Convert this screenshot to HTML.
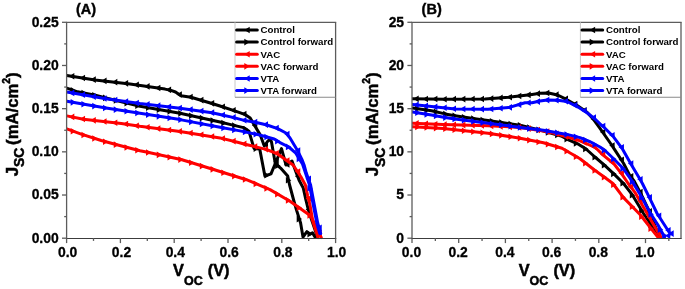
<!DOCTYPE html><html><head><meta charset="utf-8"><style>
html,body{margin:0;padding:0;background:#fff;}
svg{display:block;will-change:transform;}
text{font-family:"Liberation Sans", sans-serif;font-weight:bold;fill:#000;}
.tk{font-size:13.9px;stroke:#000;stroke-width:0.3px;}
.lg{font-size:9.7px;}
.pl{font-size:14.5px;stroke:#000;stroke-width:0.4px;}
.ti{font-size:16.3px;stroke:#000;stroke-width:0.5px;}
.tiy{font-size:16.7px;stroke:#000;stroke-width:0.5px;}
.sub{font-size:12.5px;}
.sub2{font-size:13.9px;}
.sup{font-size:10.4px;}
</style></head><body>
<svg width="685" height="289" viewBox="0 0 685 289">
<rect width="685" height="289" fill="#fff"/>
<defs><clipPath id="ca"><rect x="66.6" y="22.3" width="269" height="216.9"/></clipPath>
<clipPath id="cb"><rect x="412" y="22.3" width="269" height="216.9"/></clipPath></defs>
<g clip-path="url(#ca)">
<path d="M66.8,75.5 L95,79.9 L130,83.9 L165,89.1 L171,90.4 L175.5,92 L181,95.8 L191,97.2 L212,103.5 L220,106 L234,110.6 L244.7,114.3 L250.2,118 L254,124.5 L260.1,134.6 L264.3,146 L267.5,141.5 L270,139 L271.5,142 L275.3,163.5 L281.5,148.6 L286,165 L292,161.1 L295.5,170.8 L299,180 L303.3,188.1 L305.9,200 L308.5,210.3 L311,218 L317.3,236.5" fill="none" stroke="#000" stroke-width="3.0" stroke-linejoin="round" stroke-linecap="round"/>
<path d="M68.9,76.25L74.3,72.95L74.3,79.55Z" fill="#000"/>
<path d="M79.66,77.93L85.06,74.63L85.06,81.23Z" fill="#000"/>
<path d="M90.42,79.61L95.82,76.31L95.82,82.91Z" fill="#000"/>
<path d="M101.18,80.91L106.58,77.61L106.58,84.21Z" fill="#000"/>
<path d="M111.94,82.14L117.34,78.84L117.34,85.44Z" fill="#000"/>
<path d="M122.7,83.37L128.1,80.07L128.1,86.67Z" fill="#000"/>
<path d="M133.46,84.82L138.86,81.52L138.86,88.12Z" fill="#000"/>
<path d="M144.22,86.41L149.62,83.11L149.62,89.71Z" fill="#000"/>
<path d="M154.98,88.01L160.38,84.71L160.38,91.31Z" fill="#000"/>
<path d="M165.74,89.85L171.14,86.55L171.14,93.15Z" fill="#000"/>
<path d="M176.5,94.56L181.9,91.26L181.9,97.86Z" fill="#000"/>
<path d="M187.26,97.05L192.66,93.75L192.66,100.35Z" fill="#000"/>
<path d="M198.02,100.12L203.42,96.82L203.42,103.42Z" fill="#000"/>
<path d="M208.78,103.34L214.18,100.04L214.18,106.64Z" fill="#000"/>
<path d="M219.54,106.74L224.94,103.44L224.94,110.04Z" fill="#000"/>
<path d="M230.3,110.27L235.7,106.97L235.7,113.57Z" fill="#000"/>
<path d="M241.06,113.97L246.46,110.67L246.46,117.27Z" fill="#000"/>
<path d="M251.82,125.36L257.22,122.06L257.22,128.66Z" fill="#000"/>
<path d="M262.58,144.62L267.98,141.32L267.98,147.92Z" fill="#000"/>
<path d="M273.34,161.72L278.74,158.42L278.74,165.02Z" fill="#000"/>
<path d="M284.1,164.48L289.5,161.18L289.5,167.78Z" fill="#000"/>
<path d="M294.86,176.21L300.26,172.91L300.26,179.51Z" fill="#000"/>
<path d="M305.62,209.59L311.02,206.29L311.02,212.89Z" fill="#000"/>
<path d="M66.8,88.2 L77.6,91.8 L95.3,95.3 L107,98.2 L140,106.3 L180,113.2 L220,122 L231.8,124.9 L243.5,127.6 L249,131.3 L254,148.4 L259.7,148.9 L264.9,176 L271,173.8 L275.3,163.5 L280.6,168.1 L287.7,176 L289.6,185 L293.6,200 L296.3,209.4 L300.6,223 L303,237 L306.9,231.7 L310.1,234.1 L312.5,232.9 L315,237" fill="none" stroke="#000" stroke-width="3.0" stroke-linejoin="round" stroke-linecap="round"/>
<path d="M76.1,90.4L70.7,87.1L70.7,93.7Z" fill="#000"/>
<path d="M86.86,93.1L81.46,89.8L81.46,96.4Z" fill="#000"/>
<path d="M97.62,95.22L92.22,91.92L92.22,98.52Z" fill="#000"/>
<path d="M108.38,97.87L102.98,94.57L102.98,101.17Z" fill="#000"/>
<path d="M119.14,100.52L113.74,97.22L113.74,103.82Z" fill="#000"/>
<path d="M129.9,103.16L124.5,99.86L124.5,106.46Z" fill="#000"/>
<path d="M140.66,105.8L135.26,102.5L135.26,109.1Z" fill="#000"/>
<path d="M151.42,107.8L146.02,104.5L146.02,111.1Z" fill="#000"/>
<path d="M162.18,109.66L156.78,106.36L156.78,112.96Z" fill="#000"/>
<path d="M172.94,111.52L167.54,108.22L167.54,114.82Z" fill="#000"/>
<path d="M183.7,113.42L178.3,110.12L178.3,116.72Z" fill="#000"/>
<path d="M194.46,115.79L189.06,112.49L189.06,119.09Z" fill="#000"/>
<path d="M205.22,118.15L199.82,114.85L199.82,121.45Z" fill="#000"/>
<path d="M215.98,120.52L210.58,117.22L210.58,123.82Z" fill="#000"/>
<path d="M226.74,122.99L221.34,119.69L221.34,126.29Z" fill="#000"/>
<path d="M237.5,125.59L232.1,122.29L232.1,128.89Z" fill="#000"/>
<path d="M248.26,128.99L242.86,125.69L242.86,132.29Z" fill="#000"/>
<path d="M259.02,148.6L253.62,145.3L253.62,151.9Z" fill="#000"/>
<path d="M269.78,175.21L264.38,171.91L264.38,178.51Z" fill="#000"/>
<path d="M280.54,165.7L275.14,162.4L275.14,169Z" fill="#000"/>
<path d="M291.3,180.26L285.9,176.96L285.9,183.56Z" fill="#000"/>
<path d="M302.06,219.08L296.66,215.78L296.66,222.38Z" fill="#000"/>
<path d="M312.82,234.09L307.42,230.79L307.42,237.39Z" fill="#000"/>
<path d="M66.8,115.9 L83.5,119.3 L121.3,123.4 L140,126.3 L180,131.5 L220,137.9 L237.6,142.3 L245,144.2 L256,146.9 L266.9,149.6 L277.8,154 L285.3,159.5 L293.1,165 L297.5,171.5 L301,177 L305.4,185 L307.7,196 L310,205 L312.5,219.4 L321.3,237.7" fill="none" stroke="#ff0000" stroke-width="3.0" stroke-linejoin="round" stroke-linecap="round"/>
<path d="M68.9,116.88L74.3,113.58L74.3,120.18Z" fill="#ff0000"/>
<path d="M79.66,119.07L85.06,115.77L85.06,122.37Z" fill="#ff0000"/>
<path d="M90.42,120.34L95.82,117.04L95.82,123.64Z" fill="#ff0000"/>
<path d="M101.18,121.51L106.58,118.21L106.58,124.81Z" fill="#ff0000"/>
<path d="M111.94,122.68L117.34,119.38L117.34,125.98Z" fill="#ff0000"/>
<path d="M122.7,124.04L128.1,120.74L128.1,127.34Z" fill="#ff0000"/>
<path d="M133.46,125.7L138.86,122.4L138.86,129Z" fill="#ff0000"/>
<path d="M144.22,127.2L149.62,123.9L149.62,130.5Z" fill="#ff0000"/>
<path d="M154.98,128.6L160.38,125.3L160.38,131.9Z" fill="#ff0000"/>
<path d="M165.74,130L171.14,126.7L171.14,133.3Z" fill="#ff0000"/>
<path d="M176.5,131.4L181.9,128.1L181.9,134.7Z" fill="#ff0000"/>
<path d="M187.26,133.09L192.66,129.79L192.66,136.39Z" fill="#ff0000"/>
<path d="M198.02,134.82L203.42,131.52L203.42,138.12Z" fill="#ff0000"/>
<path d="M208.78,136.54L214.18,133.24L214.18,139.84Z" fill="#ff0000"/>
<path d="M219.54,138.46L224.94,135.16L224.94,141.76Z" fill="#ff0000"/>
<path d="M230.3,141.15L235.7,137.85L235.7,144.45Z" fill="#ff0000"/>
<path d="M241.06,143.88L246.46,140.58L246.46,147.18Z" fill="#ff0000"/>
<path d="M251.82,146.54L257.22,143.24L257.22,149.84Z" fill="#ff0000"/>
<path d="M262.58,149.2L267.98,145.9L267.98,152.5Z" fill="#ff0000"/>
<path d="M273.34,153.29L278.74,149.99L278.74,156.59Z" fill="#ff0000"/>
<path d="M284.1,160.56L289.5,157.26L289.5,163.86Z" fill="#ff0000"/>
<path d="M294.86,171.59L300.26,168.29L300.26,174.89Z" fill="#ff0000"/>
<path d="M305.62,198.43L311.02,195.13L311.02,201.73Z" fill="#ff0000"/>
<path d="M316.38,233.08L321.78,229.78L321.78,236.38Z" fill="#ff0000"/>
<path d="M66.8,128.8 L81.2,134.1 L101.2,140.5 L118.8,145.3 L140,150.8 L150,152.8 L182,159.8 L216,170.2 L246.4,179.7 L270,189.6 L290,201.2 L311.2,216.2 L318.1,237.7" fill="none" stroke="#ff0000" stroke-width="3.0" stroke-linejoin="round" stroke-linecap="round"/>
<path d="M76.1,131.23L70.7,127.93L70.7,134.53Z" fill="#ff0000"/>
<path d="M86.86,135.05L81.46,131.75L81.46,138.35Z" fill="#ff0000"/>
<path d="M97.62,138.49L92.22,135.19L92.22,141.79Z" fill="#ff0000"/>
<path d="M108.38,141.72L102.98,138.42L102.98,145.02Z" fill="#ff0000"/>
<path d="M119.14,144.66L113.74,141.36L113.74,147.96Z" fill="#ff0000"/>
<path d="M129.9,147.48L124.5,144.18L124.5,150.78Z" fill="#ff0000"/>
<path d="M140.66,150.27L135.26,146.97L135.26,153.57Z" fill="#ff0000"/>
<path d="M151.42,152.54L146.02,149.24L146.02,155.84Z" fill="#ff0000"/>
<path d="M162.18,154.87L156.78,151.57L156.78,158.17Z" fill="#ff0000"/>
<path d="M172.94,157.23L167.54,153.93L167.54,160.53Z" fill="#ff0000"/>
<path d="M183.7,159.58L178.3,156.28L178.3,162.88Z" fill="#ff0000"/>
<path d="M194.46,162.79L189.06,159.49L189.06,166.09Z" fill="#ff0000"/>
<path d="M205.22,166.08L199.82,162.78L199.82,169.38Z" fill="#ff0000"/>
<path d="M215.98,169.37L210.58,166.07L210.58,172.67Z" fill="#ff0000"/>
<path d="M226.74,172.71L221.34,169.41L221.34,176.01Z" fill="#ff0000"/>
<path d="M237.5,176.07L232.1,172.77L232.1,179.38Z" fill="#ff0000"/>
<path d="M248.26,179.44L242.86,176.14L242.86,182.74Z" fill="#ff0000"/>
<path d="M259.02,183.86L253.62,180.56L253.62,187.16Z" fill="#ff0000"/>
<path d="M269.78,188.38L264.38,185.08L264.38,191.68Z" fill="#ff0000"/>
<path d="M280.54,194.15L275.14,190.85L275.14,197.45Z" fill="#ff0000"/>
<path d="M291.3,200.39L285.9,197.09L285.9,203.69Z" fill="#ff0000"/>
<path d="M302.06,207.82L296.66,204.52L296.66,211.12Z" fill="#ff0000"/>
<path d="M312.82,215.44L307.42,212.14L307.42,218.74Z" fill="#ff0000"/>
<path d="M66.8,92.1 L106,98.8 L140,103.6 L180,108.2 L212,112.7 L220,114.5 L234,117.6 L245,120.6 L255.3,122.2 L267,125 L277.7,128.6 L286,133 L290,138 L297.5,150.5 L301.9,159.3 L304.1,165 L306.3,173.1 L310.6,185 L313.4,200 L317.7,223 L320.7,233.5" fill="none" stroke="#0000ff" stroke-width="3.0" stroke-linejoin="round" stroke-linecap="round"/>
<path d="M68.9,92.92L74.3,89.62L74.3,96.22Z" fill="#0000ff"/>
<path d="M79.66,94.76L85.06,91.46L85.06,98.06Z" fill="#0000ff"/>
<path d="M90.42,96.6L95.82,93.3L95.82,99.9Z" fill="#0000ff"/>
<path d="M101.18,98.44L106.58,95.14L106.58,101.74Z" fill="#0000ff"/>
<path d="M111.94,100.02L117.34,96.72L117.34,103.32Z" fill="#0000ff"/>
<path d="M122.7,101.54L128.1,98.24L128.1,104.84Z" fill="#0000ff"/>
<path d="M133.46,103.06L138.86,99.76L138.86,106.36Z" fill="#0000ff"/>
<path d="M144.22,104.4L149.62,101.1L149.62,107.7Z" fill="#0000ff"/>
<path d="M154.98,105.63L160.38,102.33L160.38,108.93Z" fill="#0000ff"/>
<path d="M165.74,106.87L171.14,103.57L171.14,110.17Z" fill="#0000ff"/>
<path d="M176.5,108.11L181.9,104.81L181.9,111.41Z" fill="#0000ff"/>
<path d="M187.26,109.6L192.66,106.3L192.66,112.9Z" fill="#0000ff"/>
<path d="M198.02,111.11L203.42,107.81L203.42,114.41Z" fill="#0000ff"/>
<path d="M208.78,112.63L214.18,109.33L214.18,115.93Z" fill="#0000ff"/>
<path d="M219.54,115L224.94,111.7L224.94,118.3Z" fill="#0000ff"/>
<path d="M230.3,117.38L235.7,114.08L235.7,120.68Z" fill="#0000ff"/>
<path d="M241.06,120.26L246.46,116.96L246.46,123.56Z" fill="#0000ff"/>
<path d="M251.82,122.08L257.22,118.78L257.22,125.38Z" fill="#0000ff"/>
<path d="M262.58,124.59L267.98,121.29L267.98,127.89Z" fill="#0000ff"/>
<path d="M273.34,128.04L278.74,124.74L278.74,131.34Z" fill="#0000ff"/>
<path d="M284.1,134L289.5,130.7L289.5,137.3Z" fill="#0000ff"/>
<path d="M294.86,150.62L300.26,147.32L300.26,153.92Z" fill="#0000ff"/>
<path d="M305.62,178.69L311.02,175.39L311.02,181.99Z" fill="#0000ff"/>
<path d="M316.38,227.83L321.78,224.53L321.78,231.13Z" fill="#0000ff"/>
<path d="M66.8,101.2 L106,108 L140,113.3 L180,119.6 L220,127.2 L240,130.9 L257.6,134.5 L274.2,139 L280,142.6 L288.8,147 L295.8,153.1 L300.1,160.1 L302.5,164 L305.5,173.1 L309.5,185 L312.3,200 L316.8,223 L319.8,233.5" fill="none" stroke="#0000ff" stroke-width="3.0" stroke-linejoin="round" stroke-linecap="round"/>
<path d="M76.1,102.34L70.7,99.04L70.7,105.64Z" fill="#0000ff"/>
<path d="M86.86,104.21L81.46,100.91L81.46,107.51Z" fill="#0000ff"/>
<path d="M97.62,106.08L92.22,102.78L92.22,109.38Z" fill="#0000ff"/>
<path d="M108.38,107.94L102.98,104.64L102.98,111.24Z" fill="#0000ff"/>
<path d="M119.14,109.63L113.74,106.33L113.74,112.93Z" fill="#0000ff"/>
<path d="M129.9,111.3L124.5,108L124.5,114.6Z" fill="#0000ff"/>
<path d="M140.66,112.98L135.26,109.68L135.26,116.28Z" fill="#0000ff"/>
<path d="M151.42,114.67L146.02,111.37L146.02,117.97Z" fill="#0000ff"/>
<path d="M162.18,116.37L156.78,113.07L156.78,119.67Z" fill="#0000ff"/>
<path d="M172.94,118.06L167.54,114.76L167.54,121.36Z" fill="#0000ff"/>
<path d="M183.7,119.79L178.3,116.49L178.3,123.09Z" fill="#0000ff"/>
<path d="M194.46,121.83L189.06,118.53L189.06,125.13Z" fill="#0000ff"/>
<path d="M205.22,123.88L199.82,120.58L199.82,127.18Z" fill="#0000ff"/>
<path d="M215.98,125.92L210.58,122.62L210.58,129.22Z" fill="#0000ff"/>
<path d="M226.74,127.95L221.34,124.65L221.34,131.25Z" fill="#0000ff"/>
<path d="M237.5,129.94L232.1,126.64L232.1,133.24Z" fill="#0000ff"/>
<path d="M248.26,132.04L242.86,128.74L242.86,135.34Z" fill="#0000ff"/>
<path d="M259.02,134.24L253.62,130.94L253.62,137.54Z" fill="#0000ff"/>
<path d="M269.78,137.07L264.38,133.77L264.38,140.37Z" fill="#0000ff"/>
<path d="M280.54,141.26L275.14,137.96L275.14,144.56Z" fill="#0000ff"/>
<path d="M291.3,146.9L285.9,143.6L285.9,150.2Z" fill="#0000ff"/>
<path d="M302.06,158.9L296.66,155.6L296.66,162.2Z" fill="#0000ff"/>
<path d="M312.82,188.32L307.42,185.02L307.42,191.62Z" fill="#0000ff"/>
</g>
<line x1="66" y1="22.3" x2="336.2" y2="22.3" stroke="#5c5c5c" stroke-width="1.3"/>
<line x1="66.6" y1="22.3" x2="66.6" y2="238.7" stroke="#5c5c5c" stroke-width="1.3"/>
<line x1="335.6" y1="22.3" x2="335.6" y2="238.7" stroke="#5c5c5c" stroke-width="1.3"/>
<line x1="66" y1="238.5" x2="336.2" y2="238.5" stroke="#3c3c3c" stroke-width="1.05"/>
<line x1="66.6" y1="238.2" x2="66.6" y2="243.1" stroke="#5c5c5c" stroke-width="1.3"/>
<text x="67.7" y="256.8" text-anchor="middle" class="tk">0.0</text>
<line x1="120.4" y1="238.2" x2="120.4" y2="243.1" stroke="#5c5c5c" stroke-width="1.3"/>
<text x="121.5" y="256.8" text-anchor="middle" class="tk">0.2</text>
<line x1="174.2" y1="238.2" x2="174.2" y2="243.1" stroke="#5c5c5c" stroke-width="1.3"/>
<text x="175.3" y="256.8" text-anchor="middle" class="tk">0.4</text>
<line x1="228" y1="238.2" x2="228" y2="243.1" stroke="#5c5c5c" stroke-width="1.3"/>
<text x="229.1" y="256.8" text-anchor="middle" class="tk">0.6</text>
<line x1="281.8" y1="238.2" x2="281.8" y2="243.1" stroke="#5c5c5c" stroke-width="1.3"/>
<text x="282.9" y="256.8" text-anchor="middle" class="tk">0.8</text>
<line x1="335.6" y1="238.2" x2="335.6" y2="243.1" stroke="#5c5c5c" stroke-width="1.3"/>
<text x="336.7" y="256.8" text-anchor="middle" class="tk">1.0</text>
<line x1="93.5" y1="238.2" x2="93.5" y2="240.9" stroke="#5c5c5c" stroke-width="1.3"/>
<line x1="147.3" y1="238.2" x2="147.3" y2="240.9" stroke="#5c5c5c" stroke-width="1.3"/>
<line x1="201.1" y1="238.2" x2="201.1" y2="240.9" stroke="#5c5c5c" stroke-width="1.3"/>
<line x1="254.9" y1="238.2" x2="254.9" y2="240.9" stroke="#5c5c5c" stroke-width="1.3"/>
<line x1="308.7" y1="238.2" x2="308.7" y2="240.9" stroke="#5c5c5c" stroke-width="1.3"/>
<line x1="62" y1="238.2" x2="66.6" y2="238.2" stroke="#5c5c5c" stroke-width="1.3"/>
<text x="58.7" y="242.5" text-anchor="end" class="tk">0.00</text>
<line x1="62" y1="195.02" x2="66.6" y2="195.02" stroke="#5c5c5c" stroke-width="1.3"/>
<text x="58.7" y="199.32" text-anchor="end" class="tk">0.05</text>
<line x1="62" y1="151.84" x2="66.6" y2="151.84" stroke="#5c5c5c" stroke-width="1.3"/>
<text x="58.7" y="156.14" text-anchor="end" class="tk">0.10</text>
<line x1="62" y1="108.66" x2="66.6" y2="108.66" stroke="#5c5c5c" stroke-width="1.3"/>
<text x="58.7" y="112.96" text-anchor="end" class="tk">0.15</text>
<line x1="62" y1="65.48" x2="66.6" y2="65.48" stroke="#5c5c5c" stroke-width="1.3"/>
<text x="58.7" y="69.78" text-anchor="end" class="tk">0.20</text>
<line x1="62" y1="22.3" x2="66.6" y2="22.3" stroke="#5c5c5c" stroke-width="1.3"/>
<text x="58.7" y="26.6" text-anchor="end" class="tk">0.25</text>
<line x1="64.2" y1="216.61" x2="66.6" y2="216.61" stroke="#5c5c5c" stroke-width="1.3"/>
<line x1="64.2" y1="173.43" x2="66.6" y2="173.43" stroke="#5c5c5c" stroke-width="1.3"/>
<line x1="64.2" y1="130.25" x2="66.6" y2="130.25" stroke="#5c5c5c" stroke-width="1.3"/>
<line x1="64.2" y1="87.07" x2="66.6" y2="87.07" stroke="#5c5c5c" stroke-width="1.3"/>
<line x1="64.2" y1="43.89" x2="66.6" y2="43.89" stroke="#5c5c5c" stroke-width="1.3"/>
<line x1="235" y1="22.3" x2="235" y2="97.3" stroke="#c8c8c8" stroke-width="1"/>
<line x1="235" y1="97.3" x2="335.6" y2="97.3" stroke="#8a8a8a" stroke-width="1.1"/>
<line x1="236.6" y1="30" x2="257.3" y2="30" stroke="#000" stroke-width="3.0" stroke-linecap="round"/>
<path d="M244.3,30L249.7,26.7L249.7,33.3Z" fill="#000"/>
<text x="260.5" y="33.3" class="lg">Control</text>
<line x1="236.6" y1="42.12" x2="257.3" y2="42.12" stroke="#000" stroke-width="3.0" stroke-linecap="round"/>
<path d="M249.7,42.12L244.3,38.82L244.3,45.42Z" fill="#000"/>
<text x="260.5" y="45.42" class="lg">Control forward</text>
<line x1="236.6" y1="54.24" x2="257.3" y2="54.24" stroke="#ff0000" stroke-width="3.0" stroke-linecap="round"/>
<path d="M244.3,54.24L249.7,50.94L249.7,57.54Z" fill="#ff0000"/>
<text x="260.5" y="57.54" class="lg">VAC</text>
<line x1="236.6" y1="66.36" x2="257.3" y2="66.36" stroke="#ff0000" stroke-width="3.0" stroke-linecap="round"/>
<path d="M249.7,66.36L244.3,63.06L244.3,69.66Z" fill="#ff0000"/>
<text x="260.5" y="69.66" class="lg">VAC forward</text>
<line x1="236.6" y1="78.48" x2="257.3" y2="78.48" stroke="#0000ff" stroke-width="3.0" stroke-linecap="round"/>
<path d="M244.3,78.48L249.7,75.18L249.7,81.78Z" fill="#0000ff"/>
<text x="260.5" y="81.78" class="lg">VTA</text>
<line x1="236.6" y1="90.6" x2="257.3" y2="90.6" stroke="#0000ff" stroke-width="3.0" stroke-linecap="round"/>
<path d="M249.7,90.6L244.3,87.3L244.3,93.9Z" fill="#0000ff"/>
<text x="260.5" y="93.9" class="lg">VTA forward</text>
<g clip-path="url(#cb)">
<path d="M412.6,98.8 L445,99.2 L485,99 L508.5,97.3 L532,94.4 L540,93.3 L548.5,93 L557.6,95 L567,99.7 L577.6,105.8 L587,112.3 L592.9,118.6 L600,128.3 L610.6,143.5 L615.3,150.6 L623.5,163.2 L629.4,174.8 L634.1,181 L641,194 L650,213 L659,236" fill="none" stroke="#000" stroke-width="3.0" stroke-linejoin="round" stroke-linecap="round"/>
<path d="M413.3,98.84L418.7,95.54L418.7,102.14Z" fill="#000"/>
<path d="M422.63,98.96L428.03,95.66L428.03,102.26Z" fill="#000"/>
<path d="M431.96,99.07L437.36,95.77L437.36,102.37Z" fill="#000"/>
<path d="M441.29,99.19L446.69,95.89L446.69,102.49Z" fill="#000"/>
<path d="M450.62,99.16L456.02,95.86L456.02,102.46Z" fill="#000"/>
<path d="M459.95,99.11L465.35,95.81L465.35,102.41Z" fill="#000"/>
<path d="M469.28,99.07L474.68,95.77L474.68,102.37Z" fill="#000"/>
<path d="M478.61,99.02L484.01,95.72L484.01,102.32Z" fill="#000"/>
<path d="M487.94,98.59L493.34,95.29L493.34,101.89Z" fill="#000"/>
<path d="M497.27,97.92L502.67,94.62L502.67,101.22Z" fill="#000"/>
<path d="M506.6,97.2L512,93.9L512,100.5Z" fill="#000"/>
<path d="M515.93,96.05L521.33,92.75L521.33,99.35Z" fill="#000"/>
<path d="M525.26,94.9L530.66,91.6L530.66,98.2Z" fill="#000"/>
<path d="M534.59,93.67L539.99,90.37L539.99,96.97Z" fill="#000"/>
<path d="M543.92,93.07L549.32,89.77L549.32,96.37Z" fill="#000"/>
<path d="M553.25,94.64L558.65,91.34L558.65,97.94Z" fill="#000"/>
<path d="M562.58,98.84L567.98,95.54L567.98,102.14Z" fill="#000"/>
<path d="M571.91,104.08L577.31,100.78L577.31,107.38Z" fill="#000"/>
<path d="M581.24,110.18L586.64,106.88L586.64,113.48Z" fill="#000"/>
<path d="M590.57,119.11L595.97,115.81L595.97,122.41Z" fill="#000"/>
<path d="M599.9,132.03L605.3,128.73L605.3,135.33Z" fill="#000"/>
<path d="M609.23,145.51L614.63,142.21L614.63,148.81Z" fill="#000"/>
<path d="M618.56,159.76L623.96,156.46L623.96,163.06Z" fill="#000"/>
<path d="M627.89,176.37L633.29,173.07L633.29,179.67Z" fill="#000"/>
<path d="M637.22,191.97L642.62,188.67L642.62,195.27Z" fill="#000"/>
<path d="M646.55,211.42L651.95,208.12L651.95,214.72Z" fill="#000"/>
<path d="M655.88,234.93L661.28,231.63L661.28,238.23Z" fill="#000"/>
<path d="M412.6,108.1 L431.5,110.7 L445,113.9 L455,115.7 L480,119.6 L488,120.6 L520,125.2 L543.5,131 L561.2,136 L568.5,139.8 L578.8,144.4 L586,149 L595.5,157.5 L604.7,165.3 L614.1,174.1 L623.5,183.5 L631.8,194.1 L643.5,213.5 L659,236" fill="none" stroke="#000" stroke-width="3.0" stroke-linejoin="round" stroke-linecap="round"/>
<path d="M420.6,108.83L415.2,105.53L415.2,112.13Z" fill="#000"/>
<path d="M429.93,110.11L424.53,106.81L424.53,113.41Z" fill="#000"/>
<path d="M439.26,111.9L433.86,108.6L433.86,115.2Z" fill="#000"/>
<path d="M448.59,114.06L443.19,110.76L443.19,117.36Z" fill="#000"/>
<path d="M457.92,115.73L452.52,112.43L452.52,119.03Z" fill="#000"/>
<path d="M467.25,117.19L461.85,113.89L461.85,120.49Z" fill="#000"/>
<path d="M476.58,118.65L471.18,115.35L471.18,121.95Z" fill="#000"/>
<path d="M485.91,120L480.51,116.7L480.51,123.3Z" fill="#000"/>
<path d="M495.24,121.25L489.84,117.95L489.84,124.55Z" fill="#000"/>
<path d="M504.57,122.59L499.17,119.29L499.17,125.89Z" fill="#000"/>
<path d="M513.9,123.94L508.5,120.64L508.5,127.23Z" fill="#000"/>
<path d="M523.23,125.33L517.83,122.03L517.83,128.63Z" fill="#000"/>
<path d="M532.56,127.63L527.16,124.33L527.16,130.93Z" fill="#000"/>
<path d="M541.89,129.94L536.49,126.64L536.49,133.24Z" fill="#000"/>
<path d="M551.22,132.42L545.82,129.12L545.82,135.72Z" fill="#000"/>
<path d="M560.55,135.05L555.15,131.75L555.15,138.35Z" fill="#000"/>
<path d="M569.88,139.11L564.48,135.81L564.48,142.41Z" fill="#000"/>
<path d="M579.21,143.38L573.81,140.08L573.81,146.68Z" fill="#000"/>
<path d="M588.54,148.9L583.14,145.6L583.14,152.2Z" fill="#000"/>
<path d="M597.87,157.2L592.47,153.9L592.47,160.5Z" fill="#000"/>
<path d="M607.2,165.13L601.8,161.83L601.8,168.43Z" fill="#000"/>
<path d="M616.53,173.85L611.13,170.55L611.13,177.15Z" fill="#000"/>
<path d="M625.86,183.16L620.46,179.86L620.46,186.46Z" fill="#000"/>
<path d="M635.19,195.24L629.79,191.94L629.79,198.54Z" fill="#000"/>
<path d="M644.52,210.71L639.12,207.41L639.12,214.01Z" fill="#000"/>
<path d="M653.85,224.6L648.45,221.3L648.45,227.9Z" fill="#000"/>
<path d="M412.6,123.2 L443.3,124.6 L488,125.7 L520,127.4 L545,131.2 L555.3,133.6 L578.8,140.3 L595.3,147.5 L603.5,155.3 L614.1,164 L622.4,174.8 L628.2,183.5 L635.3,192.9 L647.1,213.5 L660.8,237.1" fill="none" stroke="#ff0000" stroke-width="3.0" stroke-linejoin="round" stroke-linecap="round"/>
<path d="M413.3,123.36L418.7,120.06L418.7,126.66Z" fill="#ff0000"/>
<path d="M422.63,123.78L428.03,120.48L428.03,127.08Z" fill="#ff0000"/>
<path d="M431.96,124.21L437.36,120.91L437.36,127.51Z" fill="#ff0000"/>
<path d="M441.29,124.62L446.69,121.32L446.69,127.92Z" fill="#ff0000"/>
<path d="M450.62,124.85L456.02,121.55L456.02,128.15Z" fill="#ff0000"/>
<path d="M459.95,125.08L465.35,121.78L465.35,128.38Z" fill="#ff0000"/>
<path d="M469.28,125.31L474.68,122.01L474.68,128.61Z" fill="#ff0000"/>
<path d="M478.61,125.54L484.01,122.24L484.01,128.84Z" fill="#ff0000"/>
<path d="M487.94,125.84L493.34,122.54L493.34,129.14Z" fill="#ff0000"/>
<path d="M497.27,126.34L502.67,123.04L502.67,129.64Z" fill="#ff0000"/>
<path d="M506.6,126.83L512,123.53L512,130.13Z" fill="#ff0000"/>
<path d="M515.93,127.33L521.33,124.03L521.33,130.63Z" fill="#ff0000"/>
<path d="M525.26,128.61L530.66,125.31L530.66,131.91Z" fill="#ff0000"/>
<path d="M534.59,130.03L539.99,126.73L539.99,133.33Z" fill="#ff0000"/>
<path d="M543.92,131.58L549.32,128.28L549.32,134.88Z" fill="#ff0000"/>
<path d="M553.25,133.79L558.65,130.49L558.65,137.09Z" fill="#ff0000"/>
<path d="M562.58,136.45L567.98,133.15L567.98,139.75Z" fill="#ff0000"/>
<path d="M571.91,139.11L577.31,135.81L577.31,142.41Z" fill="#ff0000"/>
<path d="M581.24,142.54L586.64,139.24L586.64,145.84Z" fill="#ff0000"/>
<path d="M590.57,146.61L595.97,143.31L595.97,149.91Z" fill="#ff0000"/>
<path d="M599.9,154.44L605.3,151.14L605.3,157.74Z" fill="#ff0000"/>
<path d="M609.23,162.22L614.63,158.92L614.63,165.52Z" fill="#ff0000"/>
<path d="M618.56,173.32L623.96,170.02L623.96,176.62Z" fill="#ff0000"/>
<path d="M627.89,186.66L633.29,183.36L633.29,189.96Z" fill="#ff0000"/>
<path d="M637.22,200.97L642.62,197.67L642.62,204.27Z" fill="#ff0000"/>
<path d="M646.55,217.2L651.95,213.9L651.95,220.5Z" fill="#ff0000"/>
<path d="M655.88,233.28L661.28,229.98L661.28,236.58Z" fill="#ff0000"/>
<path d="M412.6,126.7 L443.3,128.5 L488,133.2 L520,138.2 L543.5,142.8 L562,148.3 L580,158.7 L594.1,169.8 L603.5,176.5 L612.9,183.5 L623.5,197.6 L640,214.5 L658.2,237.5" fill="none" stroke="#ff0000" stroke-width="3.0" stroke-linejoin="round" stroke-linecap="round"/>
<path d="M420.6,127.01L415.2,123.71L415.2,130.31Z" fill="#ff0000"/>
<path d="M429.93,127.56L424.53,124.26L424.53,130.86Z" fill="#ff0000"/>
<path d="M439.26,128.1L433.86,124.8L433.86,131.4Z" fill="#ff0000"/>
<path d="M448.59,128.77L443.19,125.47L443.19,132.07Z" fill="#ff0000"/>
<path d="M457.92,129.75L452.52,126.45L452.52,133.05Z" fill="#ff0000"/>
<path d="M467.25,130.73L461.85,127.43L461.85,134.03Z" fill="#ff0000"/>
<path d="M476.58,131.72L471.18,128.42L471.18,135.02Z" fill="#ff0000"/>
<path d="M485.91,132.7L480.51,129.4L480.51,136Z" fill="#ff0000"/>
<path d="M495.24,133.91L489.84,130.61L489.84,137.21Z" fill="#ff0000"/>
<path d="M504.57,135.37L499.17,132.07L499.17,138.67Z" fill="#ff0000"/>
<path d="M513.9,136.82L508.5,133.52L508.5,140.12Z" fill="#ff0000"/>
<path d="M523.23,138.3L517.83,135L517.83,141.6Z" fill="#ff0000"/>
<path d="M532.56,140.13L527.16,136.83L527.16,143.43Z" fill="#ff0000"/>
<path d="M541.89,141.96L536.49,138.66L536.49,145.26Z" fill="#ff0000"/>
<path d="M551.22,144.29L545.82,140.99L545.82,147.59Z" fill="#ff0000"/>
<path d="M560.55,147.07L555.15,143.77L555.15,150.37Z" fill="#ff0000"/>
<path d="M569.88,151.29L564.48,147.99L564.48,154.59Z" fill="#ff0000"/>
<path d="M579.21,156.68L573.81,153.38L573.81,159.98Z" fill="#ff0000"/>
<path d="M588.54,163.3L583.14,160L583.14,166.6Z" fill="#ff0000"/>
<path d="M597.87,170.56L592.47,167.26L592.47,173.86Z" fill="#ff0000"/>
<path d="M607.2,177.24L601.8,173.94L601.8,180.54Z" fill="#ff0000"/>
<path d="M616.53,184.74L611.13,181.44L611.13,188.04Z" fill="#ff0000"/>
<path d="M625.86,197.15L620.46,193.85L620.46,200.45Z" fill="#ff0000"/>
<path d="M635.19,206.81L629.79,203.51L629.79,210.11Z" fill="#ff0000"/>
<path d="M644.52,216.8L639.12,213.5L639.12,220.1Z" fill="#ff0000"/>
<path d="M653.85,228.59L648.45,225.29L648.45,231.89Z" fill="#ff0000"/>
<path d="M412.6,104.4 L431.5,106.6 L455,108.9 L488,109.2 L508.5,107.6 L525,102.8 L532,102.8 L540,101 L547.4,100 L557.6,100.3 L567,101.5 L577.6,106.8 L587,112.7 L595.3,119.2 L600,123.8 L603.5,126.8 L613.5,136.8 L622.6,149.2 L631.8,165.6 L638.8,177.3 L642.4,183.5 L649.4,197.6 L657.1,213.5 L670.3,234" fill="none" stroke="#0000ff" stroke-width="3.0" stroke-linejoin="round" stroke-linecap="round"/>
<path d="M413.3,104.8L418.7,101.5L418.7,108.1Z" fill="#0000ff"/>
<path d="M422.63,105.88L428.03,102.58L428.03,109.18Z" fill="#0000ff"/>
<path d="M431.96,106.91L437.36,103.61L437.36,110.21Z" fill="#0000ff"/>
<path d="M441.29,107.82L446.69,104.52L446.69,111.12Z" fill="#0000ff"/>
<path d="M450.62,108.74L456.02,105.44L456.02,112.04Z" fill="#0000ff"/>
<path d="M459.95,108.97L465.35,105.67L465.35,112.27Z" fill="#0000ff"/>
<path d="M469.28,109.05L474.68,105.75L474.68,112.35Z" fill="#0000ff"/>
<path d="M478.61,109.14L484.01,105.84L484.01,112.44Z" fill="#0000ff"/>
<path d="M487.94,108.99L493.34,105.69L493.34,112.29Z" fill="#0000ff"/>
<path d="M497.27,108.27L502.67,104.97L502.67,111.57Z" fill="#0000ff"/>
<path d="M506.6,107.37L512,104.07L512,110.67Z" fill="#0000ff"/>
<path d="M515.93,104.65L521.33,101.35L521.33,107.95Z" fill="#0000ff"/>
<path d="M525.26,102.8L530.66,99.5L530.66,106.1Z" fill="#0000ff"/>
<path d="M534.59,101.61L539.99,98.31L539.99,104.91Z" fill="#0000ff"/>
<path d="M543.92,100.11L549.32,96.81L549.32,103.41Z" fill="#0000ff"/>
<path d="M553.25,100.25L558.65,96.95L558.65,103.55Z" fill="#0000ff"/>
<path d="M562.58,101.28L567.98,97.98L567.98,104.58Z" fill="#0000ff"/>
<path d="M571.91,105.3L577.31,102L577.31,108.6Z" fill="#0000ff"/>
<path d="M581.24,110.78L586.64,107.48L586.64,114.08Z" fill="#0000ff"/>
<path d="M590.57,117.61L595.97,114.31L595.97,120.91Z" fill="#0000ff"/>
<path d="M599.9,126.03L605.3,122.73L605.3,129.33Z" fill="#0000ff"/>
<path d="M609.23,135.23L614.63,131.93L614.63,138.53Z" fill="#0000ff"/>
<path d="M618.56,147.37L623.96,144.07L623.96,150.67Z" fill="#0000ff"/>
<path d="M627.89,163.44L633.29,160.14L633.29,166.74Z" fill="#0000ff"/>
<path d="M637.22,179.23L642.62,175.93L642.62,182.53Z" fill="#0000ff"/>
<path d="M646.55,197.3L651.95,194L651.95,200.6Z" fill="#0000ff"/>
<path d="M655.88,215.8L661.28,212.5L661.28,219.1Z" fill="#0000ff"/>
<path d="M665.21,230.29L670.61,226.99L670.61,233.59Z" fill="#0000ff"/>
<path d="M412.6,111.9 L431.5,115.1 L445,117.5 L455,118.9 L488,123.2 L520,127.4 L543.5,130.3 L567,134.4 L580,137.6 L590.6,142 L600,147 L605,150.5 L612.9,158 L623.5,168.8 L631.8,180.6 L640,194.1 L650.6,213.5 L658,225 L664.5,237" fill="none" stroke="#0000ff" stroke-width="3.0" stroke-linejoin="round" stroke-linecap="round"/>
<path d="M420.6,112.8L415.2,109.5L415.2,116.1Z" fill="#0000ff"/>
<path d="M429.93,114.38L424.53,111.08L424.53,117.68Z" fill="#0000ff"/>
<path d="M439.26,116L433.86,112.7L433.86,119.3Z" fill="#0000ff"/>
<path d="M448.59,117.62L443.19,114.32L443.19,120.92Z" fill="#0000ff"/>
<path d="M457.92,118.93L452.52,115.63L452.52,122.23Z" fill="#0000ff"/>
<path d="M467.25,120.14L461.85,116.84L461.85,123.44Z" fill="#0000ff"/>
<path d="M476.58,121.36L471.18,118.06L471.18,124.66Z" fill="#0000ff"/>
<path d="M485.91,122.58L480.51,119.28L480.51,125.88Z" fill="#0000ff"/>
<path d="M495.24,123.8L489.84,120.5L489.84,127.1Z" fill="#0000ff"/>
<path d="M504.57,125.02L499.17,121.72L499.17,128.32Z" fill="#0000ff"/>
<path d="M513.9,126.25L508.5,122.95L508.5,129.55Z" fill="#0000ff"/>
<path d="M523.23,127.47L517.83,124.17L517.83,130.77Z" fill="#0000ff"/>
<path d="M532.56,128.62L527.16,125.32L527.16,131.92Z" fill="#0000ff"/>
<path d="M541.89,129.77L536.49,126.47L536.49,133.07Z" fill="#0000ff"/>
<path d="M551.22,131.18L545.82,127.88L545.82,134.48Z" fill="#0000ff"/>
<path d="M560.55,132.8L555.15,129.5L555.15,136.1Z" fill="#0000ff"/>
<path d="M569.88,134.44L564.48,131.14L564.48,137.74Z" fill="#0000ff"/>
<path d="M579.21,136.74L573.81,133.44L573.81,140.04Z" fill="#0000ff"/>
<path d="M588.54,140.02L583.14,136.72L583.14,143.32Z" fill="#0000ff"/>
<path d="M597.87,144.43L592.47,141.13L592.47,147.73Z" fill="#0000ff"/>
<path d="M607.2,150.15L601.8,146.85L601.8,153.45Z" fill="#0000ff"/>
<path d="M616.53,158.95L611.13,155.65L611.13,162.25Z" fill="#0000ff"/>
<path d="M625.86,168.45L620.46,165.15L620.46,171.75Z" fill="#0000ff"/>
<path d="M635.19,181.74L629.79,178.44L629.79,185.04Z" fill="#0000ff"/>
<path d="M644.52,197.43L639.12,194.13L639.12,200.73Z" fill="#0000ff"/>
<path d="M653.85,214.35L648.45,211.05L648.45,217.65Z" fill="#0000ff"/>
<path d="M663.18,229.58L657.78,226.28L657.78,232.88Z" fill="#0000ff"/>
<path d="M667.5,235.6L662.1,232.3L662.1,238.9Z" fill="#0000ff"/>
<path d="M664.9,235.8L670.3,232.5L670.3,239.1Z" fill="#0000ff"/>
<path d="M668.3,233.6L673.7,230.3L673.7,236.9Z" fill="#0000ff"/>
</g>
<line x1="411.4" y1="22.3" x2="681.6" y2="22.3" stroke="#5c5c5c" stroke-width="1.3"/>
<line x1="412" y1="22.3" x2="412" y2="238.7" stroke="#5c5c5c" stroke-width="1.3"/>
<line x1="681" y1="22.3" x2="681" y2="238.7" stroke="#5c5c5c" stroke-width="1.3"/>
<line x1="411.4" y1="238.5" x2="681.6" y2="238.5" stroke="#3c3c3c" stroke-width="1.05"/>
<line x1="412" y1="238.2" x2="412" y2="243.1" stroke="#5c5c5c" stroke-width="1.3"/>
<text x="411.5" y="256.8" text-anchor="middle" class="tk">0.0</text>
<line x1="458.7" y1="238.2" x2="458.7" y2="243.1" stroke="#5c5c5c" stroke-width="1.3"/>
<text x="458.2" y="256.8" text-anchor="middle" class="tk">0.2</text>
<line x1="505.4" y1="238.2" x2="505.4" y2="243.1" stroke="#5c5c5c" stroke-width="1.3"/>
<text x="504.9" y="256.8" text-anchor="middle" class="tk">0.4</text>
<line x1="552.1" y1="238.2" x2="552.1" y2="243.1" stroke="#5c5c5c" stroke-width="1.3"/>
<text x="551.6" y="256.8" text-anchor="middle" class="tk">0.6</text>
<line x1="598.8" y1="238.2" x2="598.8" y2="243.1" stroke="#5c5c5c" stroke-width="1.3"/>
<text x="598.3" y="256.8" text-anchor="middle" class="tk">0.8</text>
<line x1="645.5" y1="238.2" x2="645.5" y2="243.1" stroke="#5c5c5c" stroke-width="1.3"/>
<text x="645" y="256.8" text-anchor="middle" class="tk">1.0</text>
<line x1="435.35" y1="238.2" x2="435.35" y2="240.9" stroke="#5c5c5c" stroke-width="1.3"/>
<line x1="482.05" y1="238.2" x2="482.05" y2="240.9" stroke="#5c5c5c" stroke-width="1.3"/>
<line x1="528.75" y1="238.2" x2="528.75" y2="240.9" stroke="#5c5c5c" stroke-width="1.3"/>
<line x1="575.45" y1="238.2" x2="575.45" y2="240.9" stroke="#5c5c5c" stroke-width="1.3"/>
<line x1="622.15" y1="238.2" x2="622.15" y2="240.9" stroke="#5c5c5c" stroke-width="1.3"/>
<line x1="668.85" y1="238.2" x2="668.85" y2="240.9" stroke="#5c5c5c" stroke-width="1.3"/>
<line x1="407.4" y1="238.2" x2="412" y2="238.2" stroke="#5c5c5c" stroke-width="1.3"/>
<text x="404.1" y="242.5" text-anchor="end" class="tk">0</text>
<line x1="407.4" y1="195.02" x2="412" y2="195.02" stroke="#5c5c5c" stroke-width="1.3"/>
<text x="404.1" y="199.32" text-anchor="end" class="tk">5</text>
<line x1="407.4" y1="151.84" x2="412" y2="151.84" stroke="#5c5c5c" stroke-width="1.3"/>
<text x="404.1" y="156.14" text-anchor="end" class="tk">10</text>
<line x1="407.4" y1="108.66" x2="412" y2="108.66" stroke="#5c5c5c" stroke-width="1.3"/>
<text x="404.1" y="112.96" text-anchor="end" class="tk">15</text>
<line x1="407.4" y1="65.48" x2="412" y2="65.48" stroke="#5c5c5c" stroke-width="1.3"/>
<text x="404.1" y="69.78" text-anchor="end" class="tk">20</text>
<line x1="407.4" y1="22.3" x2="412" y2="22.3" stroke="#5c5c5c" stroke-width="1.3"/>
<text x="404.1" y="26.6" text-anchor="end" class="tk">25</text>
<line x1="409.6" y1="216.61" x2="412" y2="216.61" stroke="#5c5c5c" stroke-width="1.3"/>
<line x1="409.6" y1="173.43" x2="412" y2="173.43" stroke="#5c5c5c" stroke-width="1.3"/>
<line x1="409.6" y1="130.25" x2="412" y2="130.25" stroke="#5c5c5c" stroke-width="1.3"/>
<line x1="409.6" y1="87.07" x2="412" y2="87.07" stroke="#5c5c5c" stroke-width="1.3"/>
<line x1="409.6" y1="43.89" x2="412" y2="43.89" stroke="#5c5c5c" stroke-width="1.3"/>
<line x1="580.4" y1="22.3" x2="580.4" y2="97.3" stroke="#c8c8c8" stroke-width="1"/>
<line x1="580.4" y1="97.3" x2="681" y2="97.3" stroke="#8a8a8a" stroke-width="1.1"/>
<line x1="582" y1="30" x2="602.7" y2="30" stroke="#000" stroke-width="3.0" stroke-linecap="round"/>
<path d="M589.7,30L595.1,26.7L595.1,33.3Z" fill="#000"/>
<text x="605.9" y="33.3" class="lg">Control</text>
<line x1="582" y1="42.12" x2="602.7" y2="42.12" stroke="#000" stroke-width="3.0" stroke-linecap="round"/>
<path d="M595.1,42.12L589.7,38.82L589.7,45.42Z" fill="#000"/>
<text x="605.9" y="45.42" class="lg">Control forward</text>
<line x1="582" y1="54.24" x2="602.7" y2="54.24" stroke="#ff0000" stroke-width="3.0" stroke-linecap="round"/>
<path d="M589.7,54.24L595.1,50.94L595.1,57.54Z" fill="#ff0000"/>
<text x="605.9" y="57.54" class="lg">VAC</text>
<line x1="582" y1="66.36" x2="602.7" y2="66.36" stroke="#ff0000" stroke-width="3.0" stroke-linecap="round"/>
<path d="M595.1,66.36L589.7,63.06L589.7,69.66Z" fill="#ff0000"/>
<text x="605.9" y="69.66" class="lg">VAC forward</text>
<line x1="582" y1="78.48" x2="602.7" y2="78.48" stroke="#0000ff" stroke-width="3.0" stroke-linecap="round"/>
<path d="M589.7,78.48L595.1,75.18L595.1,81.78Z" fill="#0000ff"/>
<text x="605.9" y="81.78" class="lg">VTA</text>
<line x1="582" y1="90.6" x2="602.7" y2="90.6" stroke="#0000ff" stroke-width="3.0" stroke-linecap="round"/>
<path d="M595.1,90.6L589.7,87.3L589.7,93.9Z" fill="#0000ff"/>
<text x="605.9" y="93.9" class="lg">VTA forward</text>
<text x="76" y="13.9" class="pl">(A)</text>
<text x="173.1" y="275.9" class="ti">V<tspan class="sub" dy="8.8">OC</tspan><tspan dx="0.6" dy="-8.8"> (V)</tspan></text>
<text transform="translate(18,176.2) rotate(-90)" class="tiy">J<tspan class="sub2" dy="6.4">SC</tspan><tspan dx="-1.9" dy="-6.4"> (mA/cm</tspan><tspan class="sup" dy="-8.4">2</tspan><tspan dy="8.4">)</tspan></text>
<text x="421.6" y="13.9" class="pl">(B)</text>
<text x="518.7" y="275.9" class="ti">V<tspan class="sub" dy="8.8">OC</tspan><tspan dx="0.6" dy="-8.8"> (V)</tspan></text>
<text transform="translate(378.3,176.2) rotate(-90)" class="tiy">J<tspan class="sub2" dy="6.4">SC</tspan><tspan dx="-1.9" dy="-6.4"> (mA/cm</tspan><tspan class="sup" dy="-8.4">2</tspan><tspan dy="8.4">)</tspan></text>
</svg></body></html>
